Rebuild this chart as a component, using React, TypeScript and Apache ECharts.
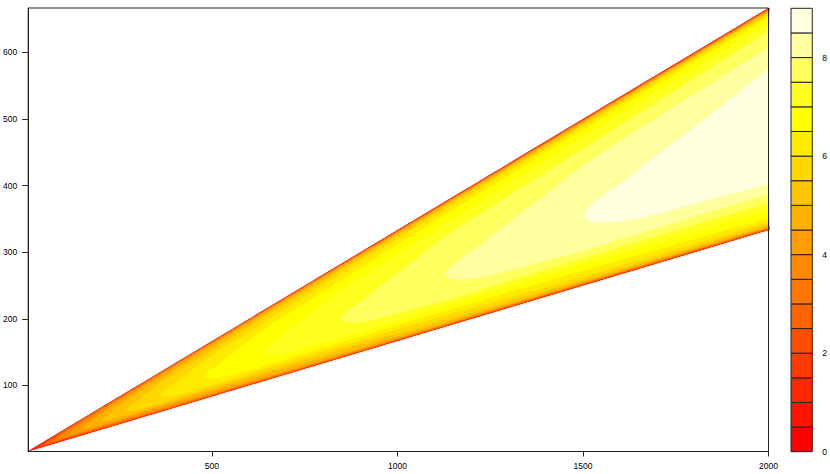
import { useEffect, useRef } from "react";
import * as echarts from "echarts";

// Colour key: lower bound of each band (0 .. 8.5 by 0.5) and its heat colour
const BAND_LOWER = [0, 0.5, 1, 1.5, 2, 2.5, 3, 3.5, 4, 4.5, 5, 5.5, 6, 6.5, 7, 7.5, 8, 8.5];
const BAND_COLORS = [
  "#FF0000", "#FF1400", "#FF2700", "#FF3B00", "#FF4E00", "#FF6200", "#FF7600",
  "#FF8900", "#FF9D00", "#FFB100", "#FFC400", "#FFD800", "#FFEB00", "#FFFF00",
  "#FFFF20", "#FFFF60", "#FFFF9F", "#FFFFDF",
];
const KEY_MAX = 9;
const KEY_TICKS = [0, 2, 4, 6, 8];

// Axes
const X_MIN = 5;
const X_MAX = 2000;
const Y_MIN = 0.83;
const Y_MAX = 666.67;
const X_TICKS = [500, 1000, 1500, 2000];
const Y_TICKS = [100, 200, 300, 400, 500, 600];

// Data region: wedge between y = x/6 and y = x/3
const WEDGE_LOW_SLOPE = 1 / 6;
const WEDGE_HIGH_SLOPE = 1 / 3;

const RIDGE_VALUE = [0, 0.5, 1, 1.5, 2, 2.5, 3, 3.5, 4, 4.5, 5, 5.5, 6, 6.5, 7, 7.5, 8, 8.5, 9];
const RIDGE_X = [11.7, 15.6, 20.7, 27.5, 36.6, 48.8, 64.9, 86.3, 114.9, 152.9, 203.4, 270.7, 360.2, 479.4, 637.9, 848.8, 1129.5, 1503, 2000];

// Cross-section read at the right edge: fraction across the wedge (0 = lower edge, 1 = upper edge)
// where the value is DEPTH below the crest
const DEPTH = [0.5, 1, 1.5, 2, 2.5, 3, 3.5, 4, 4.5, 5, 5.5, 6, 6.5, 7, 7.5, 8, 8.5];
const T_LOWER = [0.208, 0.164, 0.125, 0.089, 0.053, 0.035, 0.025, 0.018, 0.014, 0.01, 0.008, 0.006, 0.0045, 0.003, 0.002, 0.001, 0.0005];
const T_UPPER = [0.725, 0.824, 0.896, 0.935, 0.959, 0.971, 0.979, 0.984, 0.987, 0.99, 0.992, 0.994, 0.9955, 0.997, 0.998, 0.999, 0.9995];

// Rounded tip of each contour (relative x from the tip, fraction across wedge)
const TIP_RATIO = [1, 1.005, 1.02, 1.045, 1.074, 1.11, 1.154, 1.24];
const TIP_T_LOWER = [0.42, 0.386, 0.351, 0.318, 0.29, 0.27, 0.255, 0.232];
const TIP_T_UPPER = [0.42, 0.446, 0.473, 0.498, 0.52, 0.56, 0.595, 0.66];

// Off-plot x used only so the clipped right edge stays straight
const X_CLIP = 2150;

const FONT = "'Liberation Sans', Arial, Helvetica, sans-serif";

function yAt(x: number, t: number) {
  return x * (WEDGE_LOW_SLOPE + t * (WEDGE_HIGH_SLOPE - WEDGE_LOW_SLOPE));
}

function buildShapes(): number[][][] {
  const shapes: number[][][] = [];
  // base: the whole wedge
  shapes.push([
    [X_MIN, X_MIN * WEDGE_LOW_SLOPE],
    [X_MAX, X_MAX * WEDGE_LOW_SLOPE],
    [X_MAX, X_MAX * WEDGE_HIGH_SLOPE],
    [X_MIN, X_MIN * WEDGE_HIGH_SLOPE],
  ]);
  for (let i = 1; i < BAND_LOWER.length; i++) {
    const level = BAND_LOWER[i];
    const r = RIDGE_VALUE.indexOf(level);
    const x0 = RIDGE_X[r];
    const lower: number[][] = [];
    const upper: number[][] = [];
    let tLo = 0;
    let tHi = 0;
    TIP_RATIO.forEach((ratio, k) => {
      const x = x0 * ratio;
      if (x >= X_MAX) return;
      lower.push([x, yAt(x, TIP_T_LOWER[k])]);
      upper.push([x, yAt(x, TIP_T_UPPER[k])]);
      tLo = TIP_T_LOWER[k];
      tHi = TIP_T_UPPER[k];
    });
    for (let j = 0; j < DEPTH.length; j++) {
      const idx = r + j + 1;
      if (idx >= RIDGE_X.length) break;
      const x = RIDGE_X[idx];
      lower.push([x, yAt(x, T_LOWER[j])]);
      upper.push([x, yAt(x, T_UPPER[j])]);
      tLo = T_LOWER[j];
      tHi = T_UPPER[j];
    }
    lower.push([X_CLIP, yAt(X_CLIP, tLo)]);
    upper.push([X_CLIP, yAt(X_CLIP, tHi)]);
    const poly = lower.slice().reverse().concat(upper.slice(1));
    shapes.push(poly);
  }
  return shapes;
}

export default function App() {
  const ref = useRef<HTMLDivElement>(null);
  useEffect(() => {
    if (!ref.current) return;
    const chart = echarts.init(ref.current, undefined, { renderer: "svg" });
    const shapes = buildShapes();
    const axisLabel = { color: "#000", fontFamily: FONT, fontSize: 8.5, formatter: (v: number) => String(v) };
    chart.setOption({
      animation: false,
      backgroundColor: "#fff",
      grid: [
        { left: 28, top: 8, width: 740.5, height: 443.5, show: true, borderColor: "#222", borderWidth: 1, z: 10, backgroundColor: "transparent" },
        { left: 791, top: 8.3, width: 21.7, height: 443.4 },
      ],
      xAxis: [
        {
          type: "value", gridIndex: 0, min: X_MIN, max: X_MAX,
          axisLine: { show: true, lineStyle: { color: "#222" } },
          axisTick: { show: true, length: 5, lineStyle: { color: "#222" }, customValues: X_TICKS },
          axisLabel: { ...axisLabel, margin: 10, customValues: X_TICKS },
          splitLine: { show: false },
          z: 10,
        },
        { type: "value", gridIndex: 1, min: 0, max: 1, show: false },
      ],
      yAxis: [
        {
          type: "value", gridIndex: 0, min: Y_MIN, max: Y_MAX,
          axisLine: { show: true, lineStyle: { color: "#222" } },
          axisTick: { show: true, length: 6, lineStyle: { color: "#222" }, customValues: Y_TICKS },
          axisLabel: { ...axisLabel, margin: 11, customValues: Y_TICKS },
          splitLine: { show: false },
          z: 10,
        },
        {
          type: "value", gridIndex: 1, min: 0, max: KEY_MAX, position: "right",
          axisLine: { show: false },
          axisTick: { show: true, length: 5, lineStyle: { color: "#222" }, customValues: KEY_TICKS },
          axisLabel: { ...axisLabel, margin: 10, customValues: KEY_TICKS },
          splitLine: { show: false },
        },
      ],
      series: [
        {
          type: "custom",
          xAxisIndex: 0,
          yAxisIndex: 0,
          clip: true,
          data: shapes.map((_, i) => [i]),
          encode: { x: [], y: [] },
          renderItem: (params: any, api: any) => {
            const i = params.dataIndex;
            const poly = shapes[i];
            return {
              type: "polygon",
              shape: { points: poly.map((p) => api.coord(p)), smooth: i === 0 ? 0 : 0.25 },
              style: { fill: BAND_COLORS[i] },
            };
          },
        },
        {
          type: "custom",
          xAxisIndex: 1,
          yAxisIndex: 1,
          data: BAND_LOWER.map((_, i) => [i]),
          encode: { x: [], y: [] },
          renderItem: (params: any, api: any) => {
            const lo = BAND_LOWER[params.dataIndex];
            const p0 = api.coord([0, lo + 0.5]);
            const p1 = api.coord([1, lo]);
            return {
              type: "rect",
              shape: { x: p0[0], y: p0[1], width: p1[0] - p0[0], height: p1[1] - p0[1] },
              style: { fill: BAND_COLORS[params.dataIndex], stroke: "#222", lineWidth: 1 },
            };
          },
        },
      ],
    });
    return () => chart.dispose();
  }, []);
  return <div ref={ref} style={{ position: "fixed", left: 0, top: 0, width: 830, height: 474 }} />;
}
